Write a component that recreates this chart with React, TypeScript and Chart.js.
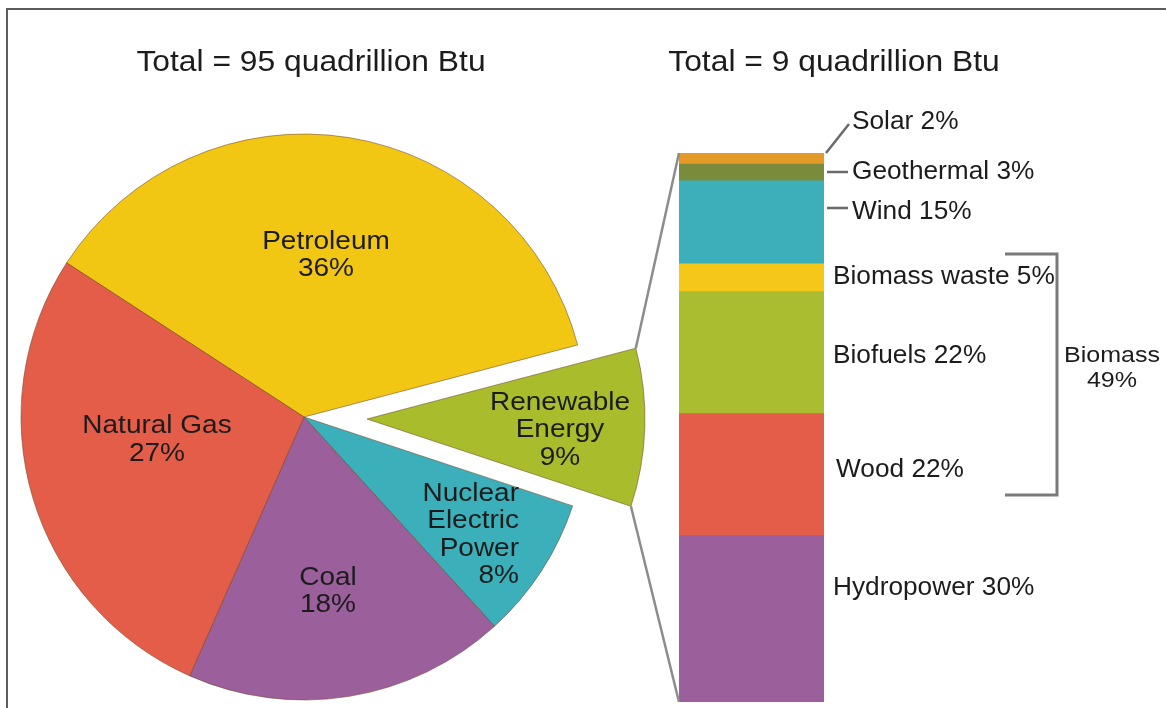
import React, { useEffect, useRef } from 'react';
import { Chart, registerables } from 'chart.js';

Chart.register(...registerables);

// ---------- DATA ----------
const pieTotal = 95;
const barTotal = 9;
const pieCategories = ['Petroleum', 'Renewable\nEnergy', 'Nuclear\nElectric\nPower', 'Coal', 'Natural Gas'];
const pieValues = [36, 9, 8, 18, 27];
const barCategories = ['Hydropower', 'Wood', 'Biofuels', 'Biomass waste', 'Wind', 'Geothermal', 'Solar'];
const barValues = [30, 22, 22, 5, 15, 3, 2];
const biomassGroup = ['Wood', 'Biofuels', 'Biomass waste'];
const explodedCategory = 'Renewable\nEnergy';

// ---------- STYLE / LAYOUT ----------
const W = 1166;
const H = 708;
const FONT = '"Liberation Sans", Arial, Helvetica, sans-serif';
const TEXT = '#1c1c1c';
const pieColors = ['#F2C714', '#A9BC2C', '#3BB0BA', '#9B5F9B', '#E35D49'];
const pieBorder = 'rgba(110,70,40,0.55)';
const barColors = ['#9B5F9B', '#E35D49', '#AABD30', '#F4C718', '#3BB0BA', '#7A8B3B', '#E49A27'];

const PIE = { cx: 304, cy: 417, r: 283, rExploded: 278, explode: 63, rotation: -57, size: 600 };
const BARBOX = { left: 679, right: 824, top: 153, bottom: 702 };
const FRAME = { x: 7, y: 9 };

// label anchors relative to each slice's pie centre
const pieLabelOffsets = [[22, -161.5], [193, 11.5], [215, 118], [24, 174.5], [-147, 23]];
const pieLabelAlign: CanvasTextAlign[] = ['center', 'center', 'right', 'center', 'center'];
const PIE_FONT = 25, PIE_STRETCH = 1.12, PIE_LH = 27.5;

// bar label layout (same order as barCategories)
const barLabelLayout = [
  { y: 588, dx: 9, leader: 'none', ly: 0 },
  { y: 470, dx: 12, leader: 'none', ly: 0 },
  { y: 356, dx: 9, leader: 'none', ly: 0 },
  { y: 277, dx: 9, leader: 'none', ly: 0 },
  { y: 212, dx: 28, leader: 'h', ly: 208 },
  { y: 172, dx: 28, leader: 'h', ly: 172 },
  { y: 122, dx: 28, leader: 'diag', ly: 124 },
];
const BAR_FONT = 25, BAR_STRETCH = 1.05;
const BRACKET = { x1: 1005, x2: 1057, y1: 254, y2: 495, labelX: 1112, labelY1: 356, labelY2: 381 };
const TITLES = [
  { x: 311, y: 71 },
  { x: 834, y: 71 },
];

function drawText(
  ctx: CanvasRenderingContext2D,
  text: string,
  x: number,
  y: number,
  size: number,
  stretch: number,
  align: CanvasTextAlign,
  baseline: CanvasTextBaseline = 'middle'
) {
  ctx.save();
  ctx.font = `${size}px ${FONT}`;
  ctx.fillStyle = TEXT;
  ctx.textAlign = align;
  ctx.textBaseline = baseline;
  ctx.translate(x, y);
  ctx.scale(stretch, 1);
  ctx.fillText(text, 0, 0);
  ctx.restore();
}

function sliceMidAngle(index: number) {
  const total = pieValues.reduce((a, b) => a + b, 0);
  let before = 0;
  for (let i = 0; i < index; i++) before += pieValues[i];
  const frac = (before + pieValues[index] / 2) / total;
  return ((PIE.rotation - 90) * Math.PI) / 180 + frac * Math.PI * 2;
}

export default function App() {
  const pie1Ref = useRef<HTMLCanvasElement | null>(null);
  const pie2Ref = useRef<HTMLCanvasElement | null>(null);
  const barRef = useRef<HTMLCanvasElement | null>(null);

  const exIdx = pieCategories.indexOf(explodedCategory);
  const mid = sliceMidAngle(exIdx);
  const exDx = PIE.explode * Math.cos(mid);
  const exDy = PIE.explode * Math.sin(mid);
  const pieLeft = PIE.cx - PIE.size / 2;
  const pieTop = PIE.cy - PIE.size / 2;

  useEffect(() => {
    const makePie = (canvas: HTMLCanvasElement, visible: (i: number) => boolean, radius: number) => {
      const labelPlugin = {
        id: 'pieLabels',
        afterDatasetsDraw(chart: any) {
          const ctx = chart.ctx as CanvasRenderingContext2D;
          const meta = chart.getDatasetMeta(0);
          meta.data.forEach((arc: any, i: number) => {
            if (!visible(i)) return;
            const lines = pieCategories[i].split('\n').concat([`${pieValues[i]}%`]);
            const ax = arc.x + pieLabelOffsets[i][0];
            const ay = arc.y + pieLabelOffsets[i][1];
            const y0 = ay - ((lines.length - 1) * PIE_LH) / 2;
            lines.forEach((ln, k) => {
              drawText(ctx, ln, ax, y0 + k * PIE_LH, PIE_FONT, PIE_STRETCH, pieLabelAlign[i]);
            });
          });
        },
      };
      return new Chart(canvas, {
        type: 'pie',
        data: {
          labels: pieCategories,
          datasets: [
            {
              data: pieValues,
              backgroundColor: pieColors.map((c, i) => (visible(i) ? c : 'rgba(0,0,0,0)')),
              borderColor: pieColors.map((c, i) => (visible(i) ? pieBorder : 'rgba(0,0,0,0)')),
              borderWidth: pieColors.map((c, i) => (visible(i) ? 1 : 0)),
            },
          ],
        },
        options: {
          responsive: false,
          animation: false,
          events: [],
          rotation: PIE.rotation,
          radius: radius,
          layout: { padding: 0 },
          plugins: { legend: { display: false }, tooltip: { enabled: false } },
        } as any,
        plugins: [labelPlugin],
      });
    };

    const pie1 = makePie(pie1Ref.current!, (i) => i !== exIdx, PIE.r);
    const pie2 = makePie(pie2Ref.current!, (i) => i === exIdx, PIE.rExploded);

    const overlayPlugin = {
      id: 'overlay',
      afterDraw(chart: any) {
        const ctx = chart.ctx as CanvasRenderingContext2D;
        ctx.save();
        // frame
        ctx.strokeStyle = '#5c5c5c';
        ctx.lineWidth = 2;
        ctx.beginPath();
        ctx.moveTo(FRAME.x, H);
        ctx.lineTo(FRAME.x, FRAME.y);
        ctx.lineTo(W, FRAME.y);
        ctx.stroke();

        // titles
        drawText(ctx, `Total = ${pieTotal} quadrillion Btu`, TITLES[0].x, TITLES[0].y, 30, 1.06, 'center', 'alphabetic');
        drawText(ctx, `Total = ${barTotal} quadrillion Btu`, TITLES[1].x, TITLES[1].y, 30, 1.06, 'center', 'alphabetic');

        // bar geometry
        const n = barCategories.length;
        const bottomEl: any = chart.getDatasetMeta(0).data[0];
        const topEl: any = chart.getDatasetMeta(n - 1).data[0];
        const barL = bottomEl.x - bottomEl.width / 2;
        const barR = bottomEl.x + bottomEl.width / 2;
        const barTop = topEl.y;
        const barBottom = bottomEl.base;

        // connectors from the exploded slice
        const arc: any = pie2.getDatasetMeta(0).data[exIdx];
        const ox = pieLeft + exDx;
        const oy = pieTop + exDy;
        const p1x = ox + arc.x + arc.outerRadius * Math.cos(arc.startAngle);
        const p1y = oy + arc.y + arc.outerRadius * Math.sin(arc.startAngle);
        const p2x = ox + arc.x + arc.outerRadius * Math.cos(arc.endAngle);
        const p2y = oy + arc.y + arc.outerRadius * Math.sin(arc.endAngle);
        ctx.strokeStyle = '#8c8c8c';
        ctx.lineWidth = 2.5;
        ctx.beginPath();
        ctx.moveTo(p1x, p1y);
        ctx.lineTo(barL, barTop);
        ctx.moveTo(p2x, p2y);
        ctx.lineTo(barL, barBottom);
        ctx.stroke();

        // bar labels & leaders
        ctx.strokeStyle = '#6a6a6a';
        ctx.lineWidth = 2.5;
        barCategories.forEach((name, i) => {
          const L = barLabelLayout[i];
          if (L.leader === 'h') {
            ctx.beginPath();
            ctx.moveTo(barR + 3, L.ly);
            ctx.lineTo(barR + L.dx - 4, L.ly);
            ctx.stroke();
          } else if (L.leader === 'diag') {
            ctx.beginPath();
            ctx.moveTo(barR + 2, barTop);
            ctx.lineTo(barR + L.dx - 3, L.ly);
            ctx.stroke();
          }
          drawText(ctx, `${name} ${barValues[i]}%`, barR + L.dx, L.y, BAR_FONT, BAR_STRETCH, 'left');
        });

        // biomass bracket
        const biomass = biomassGroup.reduce((s, g) => s + barValues[barCategories.indexOf(g)], 0);
        ctx.strokeStyle = '#7a7a7a';
        ctx.lineWidth = 3;
        ctx.beginPath();
        ctx.moveTo(BRACKET.x1, BRACKET.y1);
        ctx.lineTo(BRACKET.x2, BRACKET.y1);
        ctx.lineTo(BRACKET.x2, BRACKET.y2);
        ctx.lineTo(BRACKET.x1, BRACKET.y2);
        ctx.stroke();
        drawText(ctx, 'Biomass', BRACKET.labelX, BRACKET.labelY1, 22, 1.14, 'center');
        drawText(ctx, `${biomass}%`, BRACKET.labelX, BRACKET.labelY2, 22, 1.14, 'center');
        ctx.restore();
      },
    };

    const bar = new Chart(barRef.current!, {
      type: 'bar',
      data: {
        labels: ['Renewable'],
        datasets: barCategories.map((name, i) => ({
          label: name,
          data: [barValues[i]],
          backgroundColor: barColors[i],
          borderWidth: 0,
          barPercentage: 1,
          categoryPercentage: 1,
        })),
      },
      options: {
        responsive: false,
        animation: false,
        events: [],
        layout: {
          padding: { left: BARBOX.left, right: W - BARBOX.right, top: BARBOX.top, bottom: H - BARBOX.bottom },
        },
        scales: {
          x: { stacked: true, display: false },
          y: { stacked: true, display: false, min: 0, max: barValues.reduce((a, b) => a + b, 0) },
        },
        plugins: { legend: { display: false }, tooltip: { enabled: false } },
      } as any,
      plugins: [overlayPlugin],
    });

    return () => {
      bar.destroy();
      pie2.destroy();
      pie1.destroy();
    };
  }, []);

  return (
    <div style={{ position: 'absolute', left: 0, top: 0, width: W, height: H, overflow: 'hidden', background: '#fff' }}>
      <canvas
        ref={pie1Ref}
        width={PIE.size}
        height={PIE.size}
        style={{ position: 'absolute', left: pieLeft, top: pieTop, width: PIE.size, height: PIE.size }}
      />
      <canvas
        ref={pie2Ref}
        width={PIE.size}
        height={PIE.size}
        style={{ position: 'absolute', left: pieLeft + exDx, top: pieTop + exDy, width: PIE.size, height: PIE.size }}
      />
      <canvas
        ref={barRef}
        width={W}
        height={H}
        style={{ position: 'absolute', left: 0, top: 0, width: W, height: H }}
      />
    </div>
  );
}
